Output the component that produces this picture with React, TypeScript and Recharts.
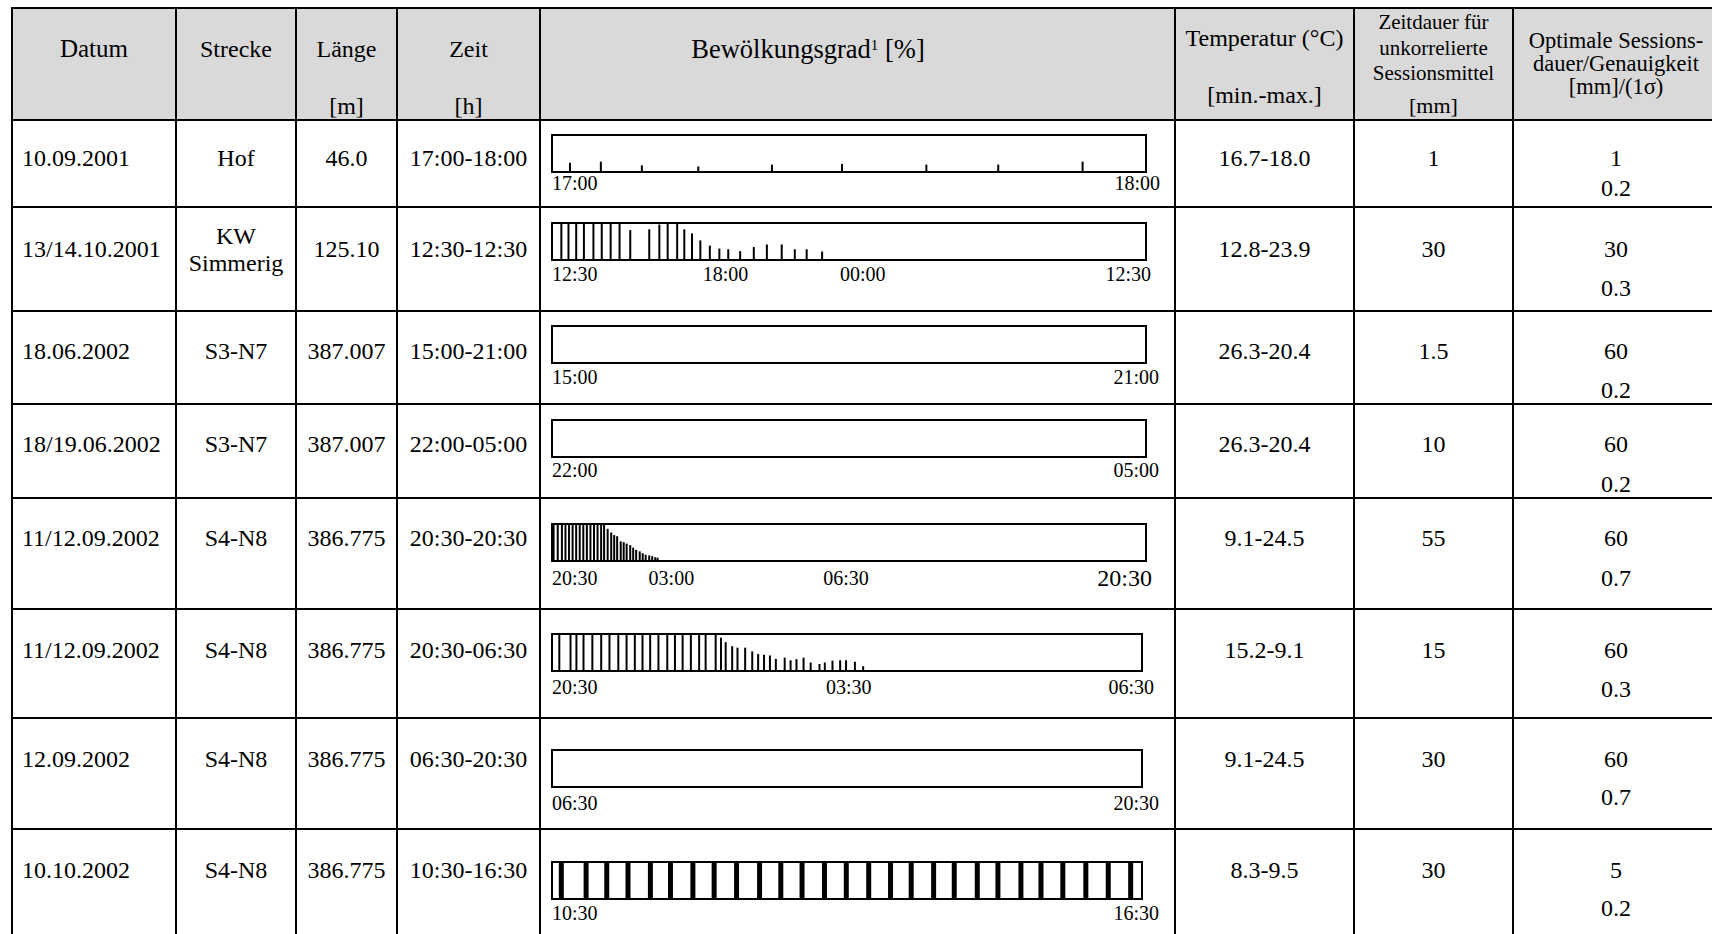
import React from 'react';
import { BarChart, Bar, XAxis, YAxis, ReferenceArea } from 'recharts';

// ---------- table data ----------
const dates = ['10.09.2001', '13/14.10.2001', '18.06.2002', '18/19.06.2002', '11/12.09.2002', '11/12.09.2002', '12.09.2002', '10.10.2002'];
const strecken = [['Hof'], ['KW', 'Simmerig'], ['S3-N7'], ['S3-N7'], ['S4-N8'], ['S4-N8'], ['S4-N8'], ['S4-N8']];
const laengen = ['46.0', '125.10', '387.007', '387.007', '386.775', '386.775', '386.775', '386.775'];
const zeiten = ['17:00-18:00', '12:30-12:30', '15:00-21:00', '22:00-05:00', '20:30-20:30', '20:30-06:30', '06:30-20:30', '10:30-16:30'];
const temperaturen = ['16.7-18.0', '12.8-23.9', '26.3-20.4', '26.3-20.4', '9.1-24.5', '15.2-9.1', '9.1-24.5', '8.3-9.5'];
const zeitdauer = ['1', '30', '1.5', '10', '55', '15', '30', '30'];
const optDauer = ['1', '30', '60', '60', '60', '60', '60', '5'];
const genauigkeit = ['0.2', '0.3', '0.2', '0.2', '0.7', '0.3', '0.7', '0.2'];

// ---------- cloud cover (position in % of the time window, cloud cover %) ----------
const cloud1Pos = [3.1, 8.3, 15.2, 24.7, 37.1, 48.9, 63.1, 75.2, 89.4];
const cloud1Val = [25, 28, 18, 15, 20, 22, 20, 20, 28];

const cloud2Pos = [1.5, 2.7, 4.0, 5.3, 6.9, 8.3, 9.8, 11.3, 13.1, 16.3, 18.0, 19.4, 21.0, 22.2, 23.5, 24.9, 26.5, 28.1, 29.6, 31.6, 33.9, 36.1, 38.6, 40.8, 42.8, 45.4];
const cloud2Val = [100, 100, 100, 100, 100, 100, 100, 100, 81, 83, 96, 100, 100, 83, 72, 53, 39, 31, 29, 24, 35, 42, 42, 29, 29, 23];

const cloud3Pos = [0, 100];
const cloud3Val = [0, 0];

const cloud4Pos = [0, 100];
const cloud4Val = [0, 0];

const cloud5Pos = [0.3, 1.0, 1.7, 2.3, 2.9, 3.5, 4.1, 4.7, 5.3, 5.9, 6.5, 7.1, 7.7, 8.3, 8.8, 9.4, 10.0, 10.5, 11.0, 11.6, 12.1, 12.6, 13.2, 13.7, 14.2, 14.8, 15.3, 15.8, 16.4, 16.9, 17.4, 17.8];
const cloud5Val = [100, 100, 100, 100, 100, 100, 100, 100, 100, 100, 100, 100, 100, 100, 100, 87, 77, 70, 67, 53, 51, 47, 43, 36, 30, 26, 21, 17, 15, 13, 10, 9];

const cloud6Pos = [1.3, 3.2, 4.2, 5.4, 6.9, 8.4, 9.8, 11.3, 12.7, 14.1, 15.4, 16.7, 18.1, 19.6, 20.9, 22.2, 23.6, 25.0, 26.1, 27.8, 28.7, 29.5, 30.6, 31.5, 32.8, 34.0, 35.0, 36.0, 37.0, 38.0, 39.5, 40.5, 41.5, 42.7, 43.9, 45.4, 46.3, 47.6, 48.9, 49.9, 51.4, 52.8];
const cloud6Val = [100, 100, 100, 100, 100, 100, 100, 100, 100, 100, 100, 100, 100, 100, 100, 100, 100, 100, 100, 100, 90, 78, 67, 63, 63, 53, 46, 44, 42, 33, 36, 29, 32, 36, 23, 19, 23, 28, 29, 29, 25, 13];

const cloud7Pos = [0, 100];
const cloud7Val = [0, 0];

const cloud8Pos = [1.5, 5.7, 9.2, 12.8, 16.6, 20.0, 23.8, 27.4, 31.2, 35.1, 38.7, 42.3, 46.1, 49.8, 53.6, 57.3, 60.8, 64.6, 68.1, 72.0, 75.5, 79.4, 82.8, 86.5, 90.4, 94.2, 98.0];
const cloud8Val = [100, 100, 100, 100, 100, 100, 100, 100, 100, 100, 100, 100, 100, 100, 100, 100, 100, 100, 100, 100, 100, 100, 100, 100, 100, 100, 100];

// ---------- time-axis tick labels (position in % of window) ----------
const ticks1 = [0, 100]; const tickLabels1 = ['17:00', '18:00'];
const ticks2 = [0, 29.2, 52.3, 100]; const tickLabels2 = ['12:30', '18:00', '00:00', '12:30'];
const ticks3 = [0, 100]; const tickLabels3 = ['15:00', '21:00'];
const ticks4 = [0, 100]; const tickLabels4 = ['22:00', '05:00'];
const ticks5 = [0, 20.1, 49.5, 100]; const tickLabels5 = ['20:30', '03:00', '06:30', '20:30'];
const ticks6 = [0, 50.3, 100]; const tickLabels6 = ['20:30', '03:30', '06:30'];
const ticks7 = [0, 100]; const tickLabels7 = ['06:30', '20:30'];
const ticks8 = [0, 100]; const tickLabels8 = ['10:30', '16:30'];

const cloudPos = [cloud1Pos, cloud2Pos, cloud3Pos, cloud4Pos, cloud5Pos, cloud6Pos, cloud7Pos, cloud8Pos];
const cloudVal = [cloud1Val, cloud2Val, cloud3Val, cloud4Val, cloud5Val, cloud6Val, cloud7Val, cloud8Val];
const tickPos = [ticks1, ticks2, ticks3, ticks4, ticks5, ticks6, ticks7, ticks8];
const tickLabels = [tickLabels1, tickLabels2, tickLabels3, tickLabels4, tickLabels5, tickLabels6, tickLabels7, tickLabels8];

// ---------- layout (styles only) ----------
const FONT = "'Liberation Serif', 'Times New Roman', serif";
const colX = [12, 176, 296, 397, 540, 1175, 1354, 1513, 1719];
const rowY = [8, 120, 207, 311, 404, 498, 609, 718, 829];
const textY = [158, 249, 351, 444, 538, 650, 759, 870];
const text2Y = [188, 288, 390, 484, 578, 689, 797, 908];
const boxTop = [135, 223, 326, 420, 524, 634, 750, 862];
const boxRight = [1146, 1146, 1146, 1146, 1146, 1142, 1142, 1142];
const endOverhang = [14, 5, 13, 13, 6, 12, 17, 17];
const lastTickSize = [20, 20, 20, 20, 24, 20, 20, 20];
const tickDy = [11, 14, 14, 13, 17, 16, 16, 14];
const barSizes = [2, 2, 2, 2, 2, 2, 2, 5];
const BOX_LEFT = 552;
const BOX_H = 37;

const T = ({ x, y, w, size = 24, align = 'center', children }: any) => (
  <div
    style={{
      position: 'absolute',
      left: x,
      top: y - size,
      width: w,
      height: size * 2,
      lineHeight: `${size * 2}px`,
      fontSize: size,
      textAlign: align,
      whiteSpace: 'nowrap',
      fontFamily: FONT,
      color: '#000',
    }}
  >
    {children}
  </div>
);

function Spark({ r }: { r: number }) {
  const ML = 6;
  const MR = 30;
  const MT = 4;
  const AXH = 40;
  const plotW = boxRight[r] - BOX_LEFT;
  const data = cloudPos[r].map((p, i) => ({ x: p, v: cloudVal[r][i] }));
  const ticks = tickPos[r];
  const labels = tickLabels[r];
  const n = ticks.length;
  const renderTick = (props: any) => {
    const { x, y, payload } = props;
    const i = ticks.indexOf(payload.value);
    const anchor = i === 0 ? 'start' : i === n - 1 ? 'end' : 'middle';
    const dx = i === n - 1 ? endOverhang[r] : 0;
    const fs = i === n - 1 ? lastTickSize[r] : 20;
    return (
      <text x={x + dx} y={y + tickDy[r]} textAnchor={anchor} dominantBaseline="central" fontSize={fs} fontFamily={FONT} fill="#000">
        {labels[i]}
      </text>
    );
  };
  return (
    <div style={{ position: 'absolute', left: BOX_LEFT - ML, top: boxTop[r] - MT }}>
      <BarChart
        width={plotW + ML + MR}
        height={MT + BOX_H + AXH}
        data={data}
        margin={{ top: MT, right: MR, left: ML, bottom: 0 }}
        style={{ overflow: 'visible' }}
      >
        <XAxis
          dataKey="x"
          type="number"
          domain={[0, 100]}
          ticks={ticks}
          interval={0}
          axisLine={false}
          tickLine={false}
          tickSize={0}
          tickMargin={0}
          height={AXH}
          tick={renderTick}
          allowDataOverflow
        />
        <YAxis hide domain={[0, 100]} allowDataOverflow />
        <Bar dataKey="v" fill="#000" barSize={barSizes[r]} isAnimationActive={false} />
        <ReferenceArea x1={0} x2={100} y1={0} y2={100} stroke="#000" strokeWidth={2} fill="none" fillOpacity={0} ifOverflow="visible" />
      </BarChart>
    </div>
  );
}

export default function App() {
  const W = 1712;
  const H = 934;
  const cw = (i: number) => colX[i + 1] - colX[i];
  return (
    <div style={{ position: 'absolute', left: 0, top: 0, width: W, height: H, overflow: 'hidden', background: '#fff', fontFamily: FONT }}>
      {/* header background */}
      <div style={{ position: 'absolute', left: colX[0], top: rowY[0], width: W - colX[0], height: rowY[1] - rowY[0], background: '#d9d9d9' }} />
      {/* horizontal lines */}
      {rowY.map((y, i) => (
        <div key={'h' + i} style={{ position: 'absolute', left: colX[0] - 1, top: y - 1, width: W, height: 2, background: '#000' }} />
      ))}
      {/* vertical lines */}
      {colX.map((x, i) => (
        <div key={'v' + i} style={{ position: 'absolute', left: x - 1, top: rowY[0] - 1, width: 2, height: H, background: '#000' }} />
      ))}

      {/* header texts */}
      <T x={colX[0]} y={49} w={cw(0)} size={25}>Datum</T>
      <T x={colX[1]} y={49} w={cw(1)}>Strecke</T>
      <T x={colX[2]} y={49} w={cw(2)}>Länge</T>
      <T x={colX[2]} y={106} w={cw(2)}>[m]</T>
      <T x={colX[3]} y={49} w={cw(3)}>Zeit</T>
      <T x={colX[3]} y={106} w={cw(3)}>[h]</T>
      <T x={658} y={49} w={300} size={26.5}>
        Bewölkungsgrad<sup style={{ fontSize: 15, verticalAlign: 'top', lineHeight: '44px' }}>1</sup> [%]
      </T>
      <T x={colX[5]} y={38} w={cw(5)}>Temperatur (°C)</T>
      <T x={colX[5]} y={95} w={cw(5)}>[min.-max.]</T>
      <T x={colX[6]} y={22} w={cw(6)} size={21}>Zeitdauer für</T>
      <T x={colX[6]} y={48} w={cw(6)} size={21}>unkorrelierte</T>
      <T x={colX[6]} y={73} w={cw(6)} size={21}>Sessionsmittel</T>
      <T x={colX[6]} y={106} w={cw(6)} size={22}>[mm]</T>
      <T x={colX[7]} y={40} w={cw(7)} size={22.5}>Optimale Sessions-</T>
      <T x={colX[7]} y={63} w={cw(7)} size={22.5}>dauer/Genauigkeit</T>
      <T x={colX[7]} y={86} w={cw(7)} size={22.5}>[mm]/(1σ)</T>

      {/* body texts */}
      {dates.map((d, r) => (
        <React.Fragment key={'r' + r}>
          <T x={colX[0] + 10} y={textY[r]} w={cw(0) - 10} align="left">{d}</T>
          {strecken[r].length === 1 ? (
            <T x={colX[1]} y={textY[r]} w={cw(1)}>{strecken[r][0]}</T>
          ) : (
            <>
              <T x={colX[1]} y={236} w={cw(1)}>{strecken[r][0]}</T>
              <T x={colX[1]} y={263} w={cw(1)}>{strecken[r][1]}</T>
            </>
          )}
          <T x={colX[2]} y={textY[r]} w={cw(2)}>{laengen[r]}</T>
          <T x={colX[3]} y={textY[r]} w={cw(3)}>{zeiten[r]}</T>
          <T x={colX[5]} y={textY[r]} w={cw(5)}>{temperaturen[r]}</T>
          <T x={colX[6]} y={textY[r]} w={cw(6)}>{zeitdauer[r]}</T>
          <T x={colX[7]} y={textY[r]} w={cw(7)}>{optDauer[r]}</T>
          <T x={colX[7]} y={text2Y[r]} w={cw(7)}>{genauigkeit[r]}</T>
          <Spark r={r} />
        </React.Fragment>
      ))}
    </div>
  );
}
